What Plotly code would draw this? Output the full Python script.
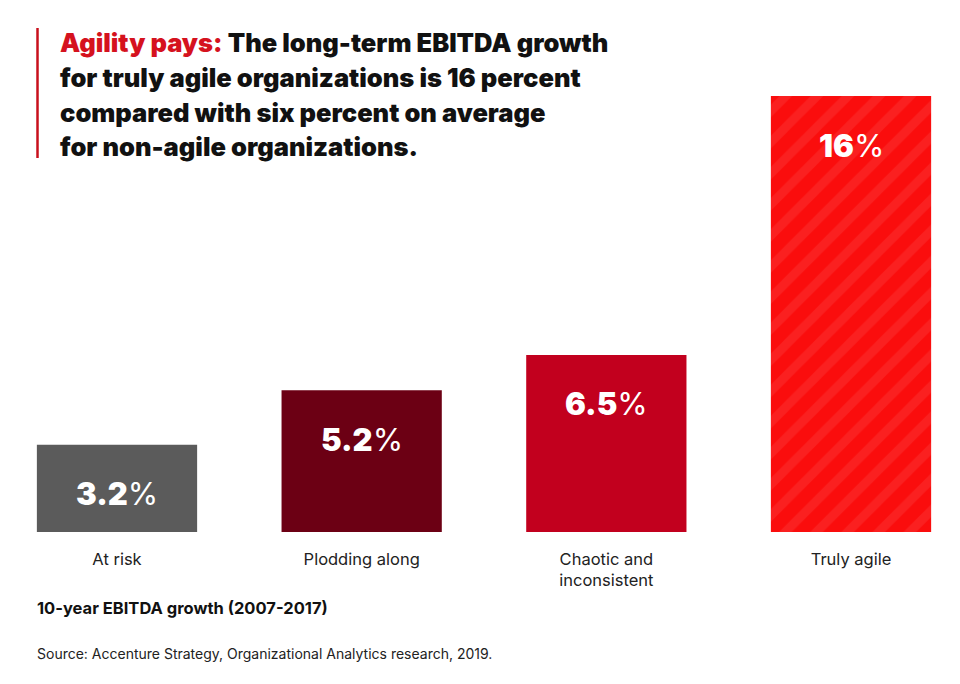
import plotly.graph_objects as go

categories = ["At risk", "Plodding along", "Chaotic and<br>inconsistent", "Truly agile"]
values = [3.2, 5.2, 6.5, 16]
labels = ["3.2", "5.2", "6.5", "16"]
colors = ["#5b5b5b", "#6c0014", "#c2001e", "#fa0d0d"]

title_lines = [
    "<span style='color:#d5121e'>Agility pays:</span> The long-term EBITDA growth",
    "for truly agile organizations is 16 percent",
    "compared with six percent on average",
    "for non-agile organizations.",
]
subtitle = "10-year EBITDA growth (2007-2017)"
source = "Source: Accenture Strategy, Organizational Analytics research, 2019."

# the page body has an 8px margin; work in screenshot pixels and shift
OFF = 8
W, H = 960 - OFF, 684 - OFF
mt = 96 - OFF
mb = H - (532 - OFF)
ph = H - mt - mb
step = 244.67
c0 = 117 - OFF


def px(p):
    return (p - OFF) / W


def py(p):
    return (H - mb - (p - OFF)) / ph


fig = go.Figure()
fig.add_trace(go.Bar(
    x=categories, y=values, width=0.655,
    marker=dict(color=colors, line=dict(width=0),
                pattern=dict(shape=["", "", "", "/"], fgcolor="#e40808",
                             fgopacity=0.08, size=22, solidity=0.4)),
    hoverinfo="skip",
))

for c, v, l in zip(categories, values, labels):
    fig.add_annotation(x=c, y=v, yshift=-49, xref="x", yref="y",
                       text=f"<span style='font-weight:900'>{l}</span>%", showarrow=False,
                       font=dict(family="Inter", size=31, color="white"),
                       yanchor="middle")

font_title = dict(family="Inter", size=25.5, color="#111111", weight=900)
for i, line in enumerate(title_lines):
    fig.add_annotation(x=px(58), y=py(43 + i * 34.5), xref="paper", yref="paper",
                       text=line, showarrow=False, font=font_title,
                       xanchor="left", yanchor="middle")

fig.add_annotation(xref="paper", yref="paper", x=px(35), y=py(608),
                   text="<b>" + subtitle + "</b>",
                   showarrow=False, xanchor="left", yanchor="middle",
                   font=dict(family="Inter", size=16.5, color="#111111", weight=800))
fig.add_annotation(xref="paper", yref="paper", x=px(35), y=py(653), text=source,
                   showarrow=False, xanchor="left", yanchor="middle",
                   font=dict(family="Inter", size=14, color="#222222"))

fig.add_shape(type="line", xref="paper", yref="paper", x0=px(37.5), x1=px(37.5),
              y0=py(28), y1=py(158), line=dict(color="#c8101c", width=2.5))

fig.update_layout(
    width=W, height=H,
    margin=dict(l=0, r=0, t=mt, b=mb),
    plot_bgcolor="white", paper_bgcolor="white",
    showlegend=False,
    xaxis=dict(range=[-c0 / step, (W - c0) / step], showgrid=False, zeroline=False,
               showline=False, ticks="", ticklabelstandoff=15,
               tickfont=dict(family="Inter", size=16.5, color="#222222")),
    yaxis=dict(range=[0, 16], visible=False),
)

fig.write_html("out.html")
